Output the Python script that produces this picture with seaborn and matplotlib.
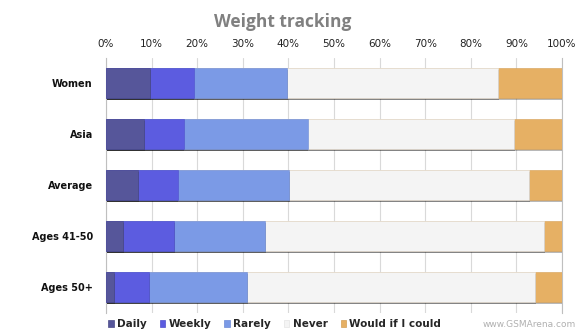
import matplotlib
matplotlib.use("Agg")
import matplotlib.pyplot as plt
import matplotlib.patheffects as pe
from matplotlib.patches import Patch
import numpy as np
import pandas as pd
import seaborn as sns

# Share of respondents (%) per group, by how often they track weight
groups = ["Women", "Asia", "Average", "Ages 41-50", "Ages 50+"]
daily = [9.7, 8.4, 7.1, 3.7, 1.7]
weekly = [9.5, 8.6, 8.6, 11.2, 7.8]
rarely = [20.6, 27.2, 24.4, 19.9, 21.4]
never = [46.1, 45.3, 52.6, 61.2, 63.2]
would = [14.1, 10.5, 7.3, 4.0, 5.9]

series_names = ["Daily", "Weekly", "Rarely", "Never", "Would if I could"]
series_values = [daily, weekly, rarely, never, would]
colors = ["#56569a", "#5c5ce0", "#7b9ae6", "#f4f4f4", "#e6b064"]
edges = ["#4a4a88", "#5050cc", "#6d8bd6", "#e4e4e4", "#d49f55"]
xticks = list(range(0, 101, 10))
xtick_labels = [f"{t}%" for t in xticks]

sns.set_theme(style="white")
plt.rcParams["font.family"] = ["DejaVu Sans"]

fig = plt.figure(figsize=(5.8, 3.33), dpi=100)
ax = fig.add_axes([106 / 580, 1 - 312.5 / 333, 456 / 580, 255 / 333])

# Stacked horizontal bars: draw cumulative totals from the outermost segment inward
cum = np.cumsum(np.array(series_values), axis=0)
for i in range(len(series_names) - 1, -1, -1):
    df = pd.DataFrame({"group": groups, "value": cum[i]})
    sns.barplot(data=df, x="value", y="group", order=groups, orient="h",
                color=colors[i], edgecolor=edges[i], linewidth=0.4,
                width=0.6, saturation=1, ax=ax, zorder=3)

# soft drop shadow under each bar segment
for p in ax.patches:
    p.set_path_effects([pe.SimplePatchShadow(offset=(0.6, -1.3), shadow_rgbFace="#000000", alpha=0.28),
                        pe.Normal()])

ax.set_xlim(0, 100)
ax.set_ylim(4.5, -0.5)
ax.set_xticks(xticks)
ax.set_xticklabels(xtick_labels, fontsize=7.5, color="#222222")
ax.xaxis.tick_top()
ax.tick_params(axis="both", length=0, pad=6)
ax.set_yticks(range(len(groups)))
ax.set_yticklabels(groups, fontsize=7, fontweight="bold", color="#111111")
ax.tick_params(axis="y", pad=9.5)
ax.set_xlabel("")
ax.set_ylabel("")
ax.grid(axis="x", color="#d9d9d9", linewidth=0.8, zorder=0)
ax.set_axisbelow(True)
for side in ["top", "bottom"]:
    ax.spines[side].set_visible(False)
for side in ["left", "right"]:
    ax.spines[side].set_color("#bfbfbf")
    ax.spines[side].set_linewidth(0.8)

fig.text(0.487, 0.935, "Weight tracking", ha="center", va="center",
         fontsize=12.5, fontweight="bold", color="#808080", family="Open Sans")

handles = [Patch(facecolor=c, edgecolor=e, linewidth=0.5) for c, e in zip(colors, edges)]
fig.legend(handles, series_names, loc="center left", bbox_to_anchor=(0.186, 0.027),
           ncol=5, frameon=False, handlelength=0.55, handleheight=0.7,
           handletextpad=0.3, columnspacing=1.25, borderaxespad=0, borderpad=0,
           prop={"weight": "bold", "size": 7.5})

fig.text(0.993, 0.027, "www.GSMArena.com", ha="right", va="center",
         fontsize=6.5, color="#b0b0b0")

fig.savefig("out.png", dpi=100)
